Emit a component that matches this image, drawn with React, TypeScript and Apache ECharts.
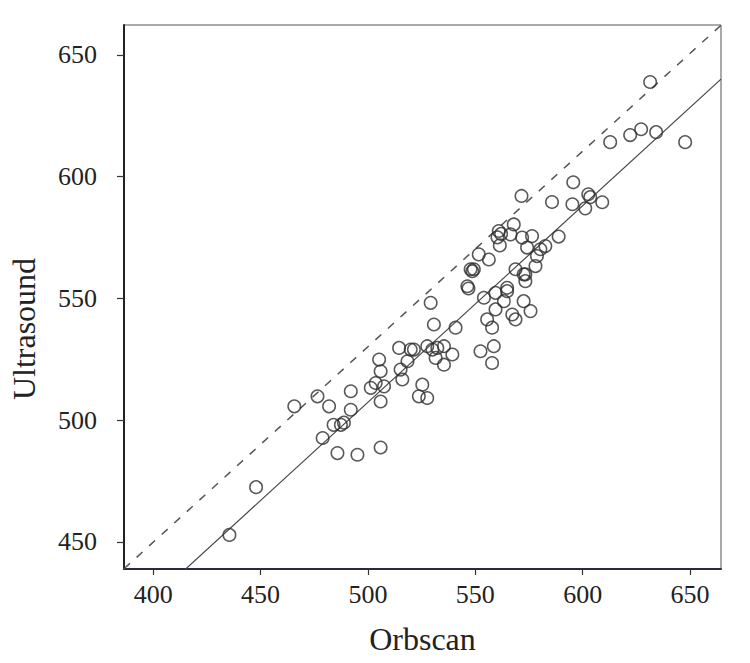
import React, { useEffect, useRef } from "react";
import * as echarts from "echarts";

// Orbscan (x) vs Ultrasound (y) measurements
const orbscan: number[] = [
  631.4, 647.7, 612.8, 622.1, 627.2, 634.2, 595.6, 602.6, 603.5, 601.2,
  609.1, 595.2, 571.5, 585.7, 567.9, 560.9, 560.3, 562.0, 566.4, 571.8,
  576.4, 561.4, 574.1, 580.3, 582.6, 588.8, 551.6, 556.3, 578.7, 549.3,
  578.0, 572.5, 568.7, 564.8, 548.6, 547.8, 546.8, 546.3, 529.2, 554.0,
  559.4, 564.8, 563.3, 559.4, 572.5, 575.7, 567.2, 568.7, 555.5, 557.8,
  530.7, 540.8, 573.3, 573.3, 521.4, 527.6, 530.0, 532.3, 535.4, 531.5,
  535.4, 539.3, 552.4, 558.6, 557.8, 525.3, 505.2, 505.9, 503.6, 507.5,
  501.3, 505.9, 492.0, 492.0, 481.9, 476.5, 465.7, 484.0, 487.4, 488.8,
  514.5, 519.9, 515.2, 518.4, 516.0, 523.7, 527.6, 478.9, 485.8, 495.1,
  505.9, 447.9, 435.5,
];
const ultrasound: number[] = [
  638.9, 614.2, 614.2, 617.1, 619.5, 618.3, 597.7, 592.8, 591.6, 587.0,
  589.5, 588.7, 592.1, 589.6, 580.4, 577.7, 575.1, 576.5, 576.3, 575.0,
  575.6, 571.8, 570.9, 570.2, 571.5, 575.4, 568.1, 566.0, 567.4, 562.0,
  563.3, 559.9, 562.0, 554.4, 561.2, 562.0, 554.1, 555.0, 548.2, 550.3,
  552.3, 553.0, 548.9, 545.5, 548.9, 544.8, 543.4, 541.4, 541.4, 538.0,
  539.3, 538.0, 559.9, 557.1, 529.0, 530.4, 529.0, 529.7, 530.4, 525.6,
  522.8, 527.0, 528.3, 530.4, 523.5, 514.6, 524.9, 520.1, 515.3, 513.9,
  513.3, 507.7, 511.9, 504.3, 505.7, 509.8, 505.7, 498.1, 498.1, 499.0,
  529.7, 529.0, 520.8, 524.2, 516.7, 509.8, 509.1, 492.7, 486.5, 485.8,
  488.8, 472.5, 452.9,
];

const xTicks: number[] = [400, 450, 500, 550, 600, 650];
const yTicks: number[] = [450, 500, 550, 600, 650];
const xRange: number[] = [386.4, 664.4];
const yRange: number[] = [438.9, 662.3];

// fitted line (solid) and reference line (dashed): [intercept, slope]
const fitLine: number[] = [103.9, 0.807];
const refLine: number[] = [128.7, 0.803];

const FONT = "'Liberation Serif', 'DejaVu Serif', serif";

export default function App() {
  const ref = useRef<HTMLDivElement>(null);

  useEffect(() => {
    if (!ref.current) return;
    const chart = echarts.init(ref.current, undefined, { renderer: "svg" });
    const points = orbscan.map((x, i) => [x, ultrasound[i]]);
    const lineData = (c: number[]) =>
      xRange.map((x) => [x, c[0] + c[1] * x]);

    chart.setOption({
      animation: false,
      backgroundColor: "#ffffff",
      grid: {
        left: 123,
        right: 29,
        top: 25,
        bottom: 94,
        show: true,
        borderColor: "#555",
        borderWidth: 1,
        backgroundColor: "transparent",
      },
      xAxis: {
        type: "value",
        min: xRange[0],
        max: xRange[1],
        name: "Orbscan",
        nameLocation: "middle",
        nameGap: 54,
        nameTextStyle: { fontFamily: FONT, fontSize: 32, color: "#222" },
        axisLine: { show: true, onZero: false, lineStyle: { color: "#2a2a3a", width: 2 } },
        axisTick: {
          show: true,
          length: 6,
          customValues: xTicks,
          lineStyle: { color: "#333", width: 1.2 },
        },
        axisLabel: {
          customValues: xTicks,
          margin: 12,
          fontFamily: FONT,
          fontSize: 26,
          color: "#222",
        },
        splitLine: { show: false },
      },
      yAxis: {
        type: "value",
        min: yRange[0],
        max: yRange[1],
        name: "Ultrasound",
        nameLocation: "middle",
        nameGap: 84,
        nameRotate: 90,
        nameTextStyle: {
          fontFamily: FONT,
          fontSize: 32,
          color: "#222",
          padding: [0, 64, 0, 0],
        },
        axisLine: { show: true, onZero: false, lineStyle: { color: "#222", width: 2 } },
        axisTick: {
          show: true,
          length: 7,
          customValues: yTicks,
          lineStyle: { color: "#333", width: 1.2 },
        },
        axisLabel: {
          customValues: yTicks,
          margin: 27,
          fontFamily: FONT,
          fontSize: 26,
          color: "#222",
        },
        splitLine: { show: false },
      },
      series: [
        {
          type: "line",
          data: lineData(refLine),
          symbol: "none",
          clip: true,
          lineStyle: { color: "#555", width: 1.5, type: [8, 9] },
          z: 1,
        },
        {
          type: "line",
          data: lineData(fitLine),
          symbol: "none",
          clip: true,
          lineStyle: { color: "#444", width: 1.2 },
          z: 1,
        },
        {
          type: "scatter",
          data: points,
          symbol: "circle",
          symbolSize: 12.5,
          itemStyle: {
            color: "rgba(255,255,255,0)",
            borderColor: "#2e2e2e",
            borderWidth: 1.5,
          },
          z: 2,
        },
      ],
    });
    return () => chart.dispose();
  }, []);

  return (
    <div
      ref={ref}
      style={{ position: "fixed", left: 0, top: 0, width: 750, height: 663, background: "#fff" }}
    />
  );
}
